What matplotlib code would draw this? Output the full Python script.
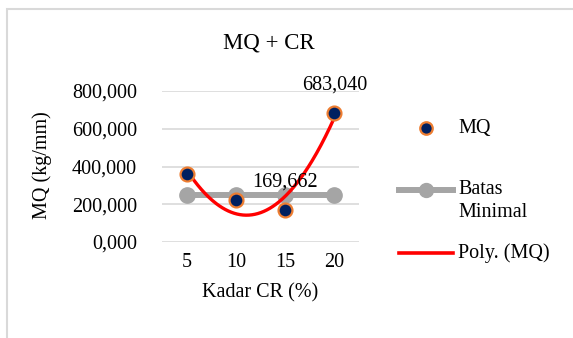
import numpy as np
import matplotlib
matplotlib.use('Agg')
import matplotlib.pyplot as plt
from matplotlib.patches import Rectangle

plt.rcParams['font.family'] = ['Liberation Serif', 'DejaVu Serif']

# data
kadar = [5, 10, 15, 20]
mq = [358.0, 222.0, 169.662, 683.040]
batas = [250, 250, 250, 250]
y_ticks = [0, 200, 400, 600, 800]

W, H = 573, 338
fig = plt.figure(figsize=(W / 100, H / 100), dpi=100)

# outer chart frame (cropped on right/bottom)
fig.patches.append(Rectangle((7 / W, -0.2), 1.2, 1.2 - 9 / H, transform=fig.transFigure,
                             fill=False, edgecolor='#d9d9d9', linewidth=1.5))

ax = fig.add_axes([162 / W, 1 - 242 / H, 197 / W, 151 / H])
for s in ax.spines.values():
    s.set_visible(False)
ax.set_xlim(2.5, 22.5)
ax.set_ylim(0, 800)
ax.set_yticks(y_ticks)
ax.set_yticklabels([f'{v:.3f}'.replace('.', ',') for v in y_ticks], fontsize=14.5)
ax.set_xticks(kadar)
ax.set_xticklabels([str(k) for k in kadar], fontsize=14.5)
ax.tick_params(length=0, pad=8)
ax.tick_params(axis='y', pad=18)
ax.grid(axis='y', color='#d9d9d9', linewidth=1.2)
ax.set_axisbelow(True)

ax.plot(kadar, batas, color='#a5a5a5', linewidth=4.3, marker='o', markersize=11, zorder=2)
ax.plot(kadar, mq, linestyle='none', marker='o', markersize=10,
        markerfacecolor='#002060', markeredgecolor='#ed7d31', markeredgewidth=1.6, zorder=4)

# polynomial trendline (order 2), like Excel
coef = np.polyfit(kadar, mq, 2)
xs = np.linspace(kadar[0], kadar[-1], 200)
ax.plot(xs, np.polyval(coef, xs), color='#ff0000', linewidth=2.4, zorder=3)

for i in [2, 3]:
    ax.annotate(f'{mq[i]:.3f}'.replace('.', ','), (kadar[i], mq[i]), xytext=(0, 13),
                textcoords='offset points', ha='center', va='bottom', fontsize=14.5, zorder=5)

ax.set_xlabel('Kadar CR (%)', fontsize=14.5, labelpad=8)
fig.text(42 / W, 1 - 165 / H, 'MQ (kg/mm)', rotation=90, ha='center', va='center', fontsize=14.5)
fig.text(269 / W, 1 - 43 / H, 'MQ + CR', ha='center', va='center', fontsize=16.5)

# legend built by hand
lax = fig.add_axes([0, 0, 1, 1], facecolor='none')
lax.set_xlim(0, W)
lax.set_ylim(H, 0)
lax.axis('off')
lax.plot([426], [128], marker='o', markersize=9, markerfacecolor='#002060',
         markeredgecolor='#ed7d31', markeredgewidth=1.6)
lax.text(458, 128, 'MQ', va='center', fontsize=14.5)
lax.plot([399, 453], [190, 190], color='#a5a5a5', linewidth=4.3)
lax.plot([426], [190], marker='o', markersize=10, color='#a5a5a5')
lax.text(458, 201, 'Batas\nMinimal', va='center', fontsize=14.5, linespacing=1.25)
lax.plot([399, 453], [253, 253], color='#ff0000', linewidth=2.6)
lax.text(458, 253, 'Poly. (MQ)', va='center', fontsize=14.5)

fig.savefig('out.png', dpi=100)
